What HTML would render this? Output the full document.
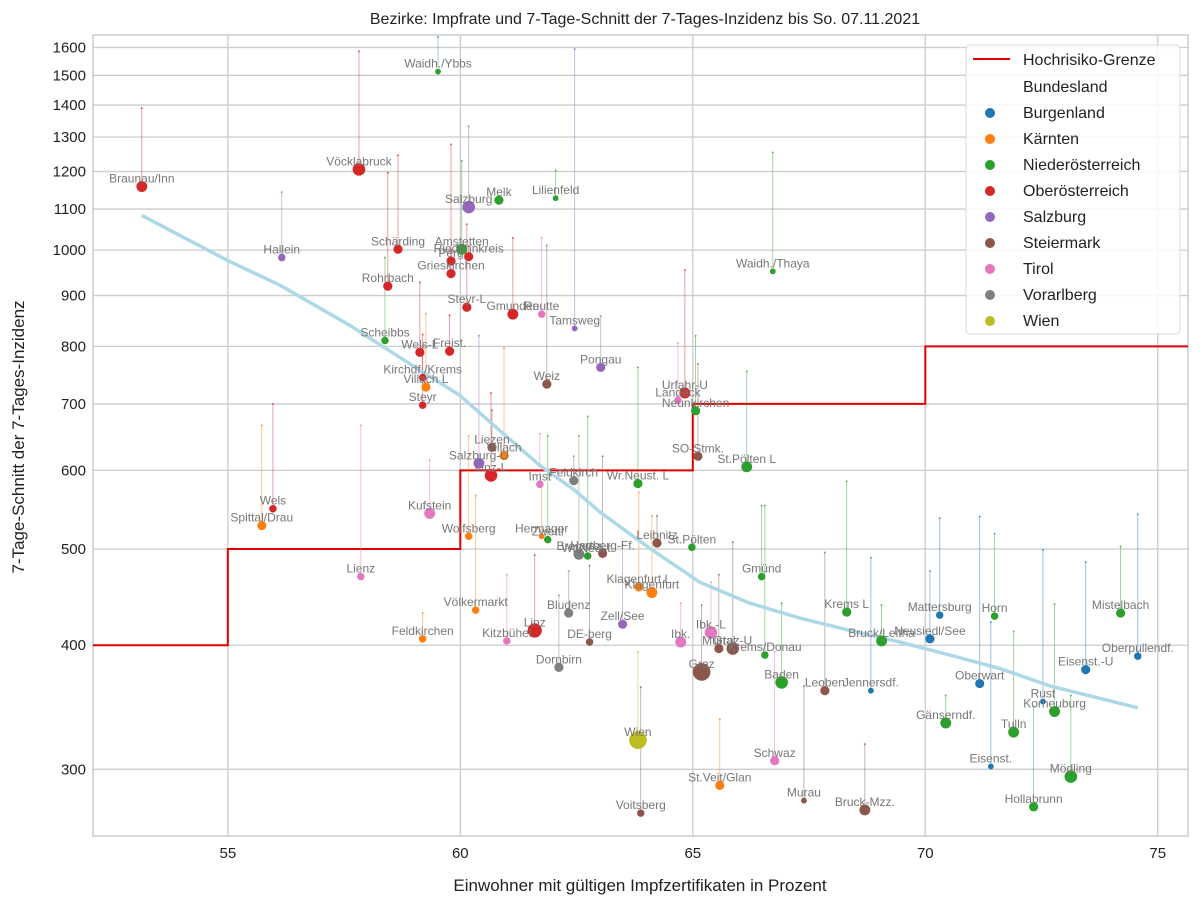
<!DOCTYPE html>
<html><head><meta charset="utf-8">
<style>
body{margin:0;background:#fff;}
svg{display:block;font-family:"Liberation Sans",sans-serif;}
</style></head>
<body>
<svg id="chart" width="1200" height="906" viewBox="0 0 1200 906">
<text x="645" y="24" text-anchor="middle" font-size="16" fill="#222">Bezirke: Impfrate und 7-Tage-Schnitt der 7-Tages-Inzidenz bis So. 07.11.2021</text>
<text x="640" y="891" text-anchor="middle" font-size="17" fill="#222">Einwohner mit gültigen Impfzertifikaten in Prozent</text>
<text x="0" y="0" transform="translate(24,437) rotate(-90)" text-anchor="middle" font-size="17" fill="#222">7-Tage-Schnitt der 7-Tages-Inzidenz</text>
<g id="grid"></g>
<g id="ticks"></g>
<g id="plot"></g>
<g id="legend"></g>
</svg>
<script>
// ---- data ----
const xTicks = [55, 60, 65, 70, 75];
const yTicks = [300, 400, 500, 600, 700, 800, 900, 1000, 1100, 1200, 1300, 1400, 1500, 1600];
const states = ["Burgenland","Kärnten","Niederösterreich","Oberösterreich","Salzburg","Steiermark","Tirol","Vorarlberg","Wien"];
const stateColors = ["#1f77b4","#ff7f0e","#2ca02c","#d62728","#9467bd","#8c564b","#e377c2","#7f7f7f","#bcbd22"];
const thresholdX = [52.1, 55, 55, 60, 60, 65, 65, 70, 70, 75.65];
const thresholdY = [400, 400, 500, 500, 600, 600, 700, 700, 800, 800];
const trendX = [53.15,55.0,56.12,57.62,59.13,59.99,60.85,61.71,62.46,63.0,64.07,65.15,66.23,67.30,68.38,69.45,70.53,71.60,72.68,74.57];
const trendY = [1084,976,922,840,757,714,658,607,573,545,501,463,441,426,414,403,391,379,364,346];
const names = ["Braunau/Inn","Vöcklabruck","Waidh./Ybbs","Hallein","Salzburg","Melk","Lilienfeld","Amstetten","Perg","Ried/Innkreis","Grieskirchen","Schärding","Rohrbach","Scheibbs","Steyr-L","Gmunden","Reutte","Tamsweg","Waidh./Thaya","Wels-L","Freist.","Kirchdf./Krems","Villach L","Steyr","Pongau","Weiz","Urfahr-U","Landeck","Neunkirchen","Liezen","Villach","Salzburg-U","Linz-L","Imst","Feldkirch","Wr.Neust. L","SO-Stmk.","St.Pölten L","Wels","Spittal/Drau","Kufstein","Wolfsberg","Hermagor","Zwettl","Bregenz","Wr.Neust.","Hartberg-Ff.","Leibnitz","St.Pölten","Lienz","Gmünd","Völkermarkt","Klagenfurt L","Klagenfurt","Bludenz","Krems L","Mattersburg","Horn","Mistelbach","Feldkirchen","Kitzbühel","Linz","Zell/See","DE-berg","Ibk.","Ibk.-L","Murtal","Graz-U","Krems/Donau","Bruck/Leitha","Neusiedl/See","Oberpullendf.","Eisenst.-U","Dornbirn","Graz","Baden","Leoben","Jennersdf.","Oberwart","Rust","Korneuburg","Gänserndf.","Tulln","Wien","Voitsberg","Schwaz","Eisenst.","Mödling","St.Veit/Glan","Murau","Bruck-Mzz.","Hollabrunn"];
const stateIdx = [3,3,2,4,4,2,2,2,3,3,3,3,3,2,3,3,6,4,2,3,3,3,1,3,4,5,3,6,2,5,1,4,3,6,7,2,5,2,3,1,6,1,1,2,7,2,5,5,2,6,2,1,1,1,7,2,0,2,2,1,6,3,4,5,6,6,5,5,2,2,0,0,0,7,5,2,5,0,0,0,2,2,2,8,5,6,0,2,1,5,5,2];
const vaccRate = [53.15,57.82,59.52,56.16,60.18,60.83,62.05,60.03,59.80,60.18,59.80,58.66,58.44,58.38,60.14,61.13,61.75,62.46,66.72,59.13,59.77,59.19,59.26,59.19,63.02,61.86,64.83,64.68,65.06,60.68,60.94,60.40,60.66,61.71,62.44,63.82,65.11,66.16,55.97,55.73,59.34,60.18,61.75,61.88,62.55,62.74,63.06,64.23,64.98,57.86,66.48,60.33,63.84,64.12,62.33,68.31,70.31,71.49,74.20,59.19,61.00,61.60,63.49,62.78,64.74,65.39,65.56,65.86,66.55,69.06,70.10,74.57,73.45,62.12,65.19,66.91,67.84,68.83,71.17,72.53,72.78,70.44,71.90,63.82,63.88,66.76,71.41,73.13,65.58,67.39,68.70,72.33];
const incidence = [1159,1206,1513,983,1105,1123,1128,1002,975,985,947,1002,920,811,876,862,862,834,952,789,791,744,728,698,762,733,718,706,689,633,621,610,593,581,586,582,620,605,549,528,543,515,515,511,494,492,495,507,502,469,469,434,458,452,431,432,429,428,431,406,404,414,420,403,403,412,397,397,391,404,406,390,378,380,376,367,360,360,366,351,343,334,327,321,271,306,302,295,289,279,273,275];
const incidencePrev = [1390,1586,1640,1144,1333,1130,1203,1230,1278,1010,1000,1246,1197,983,1062,1029,1029,1594,1254,928,860,822,863,800,858,1011,955,806,820,690,797,820,718,653,620,762,768,755,700,666,615,650,580,650,650,680,620,540,510,666,553,566,570,540,475,585,537,518,503,431,471,493,505,481,441,463,471,508,553,439,475,542,485,449,439,441,496,490,539,499,440,356,413,394,363,394,422,356,337,364,318,347];
const sizeClass = [5,6,2,3,6,4,2,5,4,4,4,4,4,3,4,5,3,2,2,4,4,3,4,3,4,4,5,3,4,4,4,5,6,3,4,4,4,5,3,4,5,3,2,3,5,3,4,4,3,3,3,3,4,5,4,4,3,3,4,3,3,7,4,3,5,6,4,6,3,5,4,3,4,4,9,6,4,2,4,2,5,5,5,9,3,4,2,6,4,2,5,4];

// ---- axes ----
const L=93, R=1188, T=35, B=836;
const xMin=52.1, xMax=75.65, yMin=257, yMax=1647;
function sx(v){return L+(v-xMin)/(xMax-xMin)*(R-L);}
function sy(v){return B-(Math.log10(v)-Math.log10(yMin))/(Math.log10(yMax)-Math.log10(yMin))*(B-T);}
const NS="http://www.w3.org/2000/svg";
function mk(tag,attrs,parent){const e=document.createElementNS(NS,tag);for(const k in attrs)e.setAttribute(k,attrs[k]);parent.appendChild(e);return e;}

const grid=document.getElementById('grid'), ticks=document.getElementById('ticks'), plot=document.getElementById('plot'), legend=document.getElementById('legend');
mk('rect',{x:L,y:T,width:R-L,height:B-T,fill:'#fff'},grid);
xTicks.forEach(v=>{
  const l=mk('line',{x1:sx(v),x2:sx(v),y1:T,y2:B,stroke:'#cccccc','stroke-width':1.3},grid);
  
  
  const t=mk('text',{x:sx(v),y:B+22,'text-anchor':'middle','font-size':15,fill:'#222'},ticks);
  t.textContent=v;
  
  
});
yTicks.forEach(v=>{
  const l=mk('line',{x1:L,x2:R,y1:sy(v),y2:sy(v),stroke:'#cccccc','stroke-width':1.3},grid);
  
  
  const t=mk('text',{x:L-7,y:sy(v)+5,'text-anchor':'end','font-size':15,fill:'#222'},ticks);
  t.textContent=v;
  
  
});
const frame=mk('rect',{x:L,y:T,width:R-L,height:B-T,fill:'none',stroke:'#cccccc','stroke-width':1.5},grid);



// threshold
let d=thresholdX.map((x,i)=>(i?'L':'M')+sx(x).toFixed(1)+' '+sy(thresholdY[i]).toFixed(1)).join(' ');
const th=mk('path',{d:d,fill:'none',stroke:'#e00000','stroke-width':2},plot);



// connector lines
names.forEach((n,i)=>{
  const c=stateColors[stateIdx[i]];
  const ln=mk('line',{x1:sx(vaccRate[i]),x2:sx(vaccRate[i]),y1:sy(incidence[i]),y2:sy(incidencePrev[i]),stroke:c,'stroke-width':0.8,'stroke-opacity':0.55},plot);
  
  
  const dt=mk('circle',{cx:sx(vaccRate[i]),cy:sy(incidencePrev[i]),r:1,fill:c,'fill-opacity':0.7},plot);
  
  
});

// trend
d=trendX.map((x,i)=>(i?'L':'M')+sx(x).toFixed(1)+' '+sy(trendY[i]).toFixed(1)).join(' ');
const tr=mk('path',{d:d,fill:'none',stroke:'#add8e6','stroke-width':3.5,'stroke-linejoin':'round'},plot);



// points + labels
names.forEach((n,i)=>{
  const c=stateColors[stateIdx[i]];
  const r=1.2+sizeClass[i]*0.85;
  const p=mk('circle',{cx:sx(vaccRate[i]),cy:sy(incidence[i]),r:r,fill:c},plot);
  
  
});
names.forEach((n,i)=>{
  const t=mk('text',{x:sx(vaccRate[i]),y:sy(incidence[i])-4,'text-anchor':'middle','font-size':12,fill:'#777'},plot);
  t.textContent=n;
  
  
});

// legend
const lb=mk('rect',{x:966,y:45,width:214,height:289,rx:4,fill:'#fff','fill-opacity':0.85,stroke:'#d8d8d8','stroke-width':1},legend);


const ll=mk('line',{x1:973,x2:1010,y1:59,y2:59,stroke:'#e00000','stroke-width':2},legend);


const lt=mk('text',{x:1023,y:65,'font-size':16,fill:'#222'},legend);
lt.textContent='Hochrisiko-Grenze';


const lh=mk('text',{x:1023,y:92,'font-size':16,fill:'#222'},legend);
lh.textContent='Bundesland';


states.forEach((s,i)=>{
  const y=112+i*26;
  const m=mk('circle',{cx:990,cy:y+1,r:5,fill:stateColors[i]},legend);
  
  
  const t=mk('text',{x:1023,y:y+6,'font-size':16,fill:'#222'},legend);
  t.textContent=s;
  
  
});
</script>
</body></html>
